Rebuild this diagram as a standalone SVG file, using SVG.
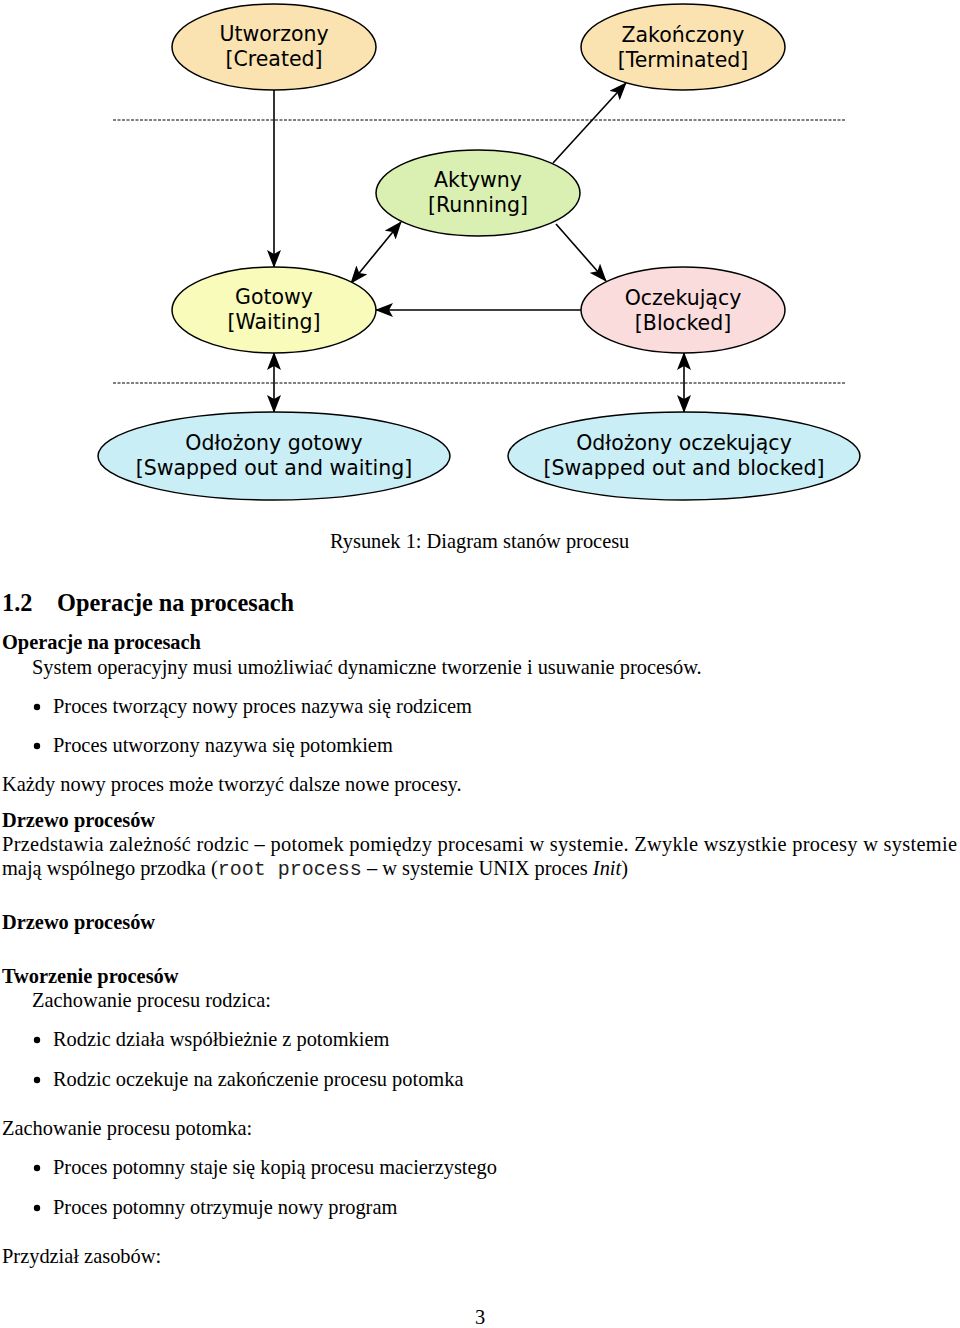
<svg xmlns="http://www.w3.org/2000/svg" width="960" height="1328" viewBox="0 0 960 1328">
<style>
.node ellipse{stroke:#000;stroke-width:1.5}
.nt{font-family:"DejaVu Sans",sans-serif;font-size:20.5px;text-anchor:middle;fill:#000}
.conn path{stroke:#000;stroke-width:1.6;fill:none}
.dash{stroke:#000;stroke-width:1;stroke-dasharray:3,1.5;fill:none}
.t{font-family:"Liberation Serif",serif;font-size:20.4px;fill:#000}
.b{font-weight:bold}
.h{font-family:"Liberation Serif",serif;font-size:24.3px;font-weight:bold;fill:#000}
.m{font-family:"Liberation Mono",monospace;font-size:20px;fill:#222}
</style>
<defs>
<marker id="ah" markerUnits="userSpaceOnUse" markerWidth="18" markerHeight="14" viewBox="0 0 18 14" refX="17" refY="7" orient="auto-start-reverse">
<path d="M0,0 L18,7 L0,14 L4,7 Z" fill="#000"/>
</marker>
</defs>
<rect width="960" height="1328" fill="#fff"/>
<line class="dash" x1="113" y1="120" x2="845" y2="120"/>
<line class="dash" x1="113" y1="383" x2="845" y2="383"/>
<g class="conn">
<path d="M274,90 L274,267" marker-end="url(#ah)"/>
<path d="M553,163 L626,83" marker-end="url(#ah)"/>
<path d="M351,283 L401,222" marker-start="url(#ah)" marker-end="url(#ah)"/>
<path d="M556,224 L606,281" marker-end="url(#ah)"/>
<path d="M581,310 L376,310" marker-end="url(#ah)"/>
<path d="M274,353 L274,412" marker-start="url(#ah)" marker-end="url(#ah)"/>
<path d="M684,353 L684,412" marker-start="url(#ah)" marker-end="url(#ah)"/>
</g>
<g id="created" class="node"><ellipse cx="274" cy="47" rx="102" ry="43" fill="#fae3b0"/><text class="nt" x="274" y="41">Utworzony</text><text class="nt" x="274" y="66">[Created]</text></g>
<g id="terminated" class="node"><ellipse cx="683" cy="47" rx="102" ry="43" fill="#fae3b0"/><text class="nt" x="683" y="42">Zakończony</text><text class="nt" x="683" y="67">[Terminated]</text></g>
<g id="running" class="node"><ellipse cx="478" cy="193" rx="102" ry="43" fill="#daf0b2"/><text class="nt" x="478" y="187">Aktywny</text><text class="nt" x="478" y="212">[Running]</text></g>
<g id="waiting" class="node"><ellipse cx="274" cy="310" rx="102" ry="43" fill="#f8fbb9"/><text class="nt" x="274" y="304">Gotowy</text><text class="nt" x="274" y="329">[Waiting]</text></g>
<g id="blocked" class="node"><ellipse cx="683" cy="310" rx="102" ry="43" fill="#fbdcdd"/><text class="nt" x="683" y="305">Oczekujący</text><text class="nt" x="683" y="330">[Blocked]</text></g>
<g id="swapped-waiting" class="node"><ellipse cx="274" cy="456" rx="176" ry="44" fill="#c9eef6"/><text class="nt" x="274" y="450">Odłożony gotowy</text><text class="nt" x="274" y="475">[Swapped out and waiting]</text></g>
<g id="swapped-blocked" class="node"><ellipse cx="684" cy="456" rx="176" ry="44" fill="#c9eef6"/><text class="nt" x="684" y="450">Odłożony oczekujący</text><text class="nt" x="684" y="475">[Swapped out and blocked]</text></g>

<text class="t" x="330" y="548">Rysunek 1: Diagram stanów procesu</text>
<text class="h" x="2" y="611">1.2</text><text class="h" x="57" y="611">Operacje na procesach</text>
<text class="t b" x="2" y="649">Operacje na procesach</text>
<text class="t" x="32" y="674">System operacyjny musi umożliwiać dynamiczne tworzenie i usuwanie procesów.</text>
<circle cx="37" cy="707" r="3.2"/><text class="t" x="53" y="713">Proces tworzący nowy proces nazywa się rodzicem</text>
<circle cx="37" cy="746" r="3.2"/><text class="t" x="53" y="752">Proces utworzony nazywa się potomkiem</text>
<text class="t" x="2" y="791">Każdy nowy proces może tworzyć dalsze nowe procesy.</text>
<text class="t b" x="2" y="827">Drzewo procesów</text>
<text class="t" x="2" y="851" textLength="955" lengthAdjust="spacing">Przedstawia zależność rodzic – potomek pomiędzy procesami w systemie.  Zwykle wszystkie procesy w systemie</text>
<text class="t" x="2" y="875">mają wspólnego przodka (<tspan class="m">root process</tspan> – w systemie UNIX proces <tspan font-style="italic">Init</tspan>)</text>
<text class="t b" x="2" y="929">Drzewo procesów</text>
<text class="t b" x="2" y="983">Tworzenie procesów</text>
<text class="t" x="32" y="1007">Zachowanie procesu rodzica:</text>
<circle cx="37" cy="1040" r="3.2"/><text class="t" x="53" y="1046">Rodzic działa współbieżnie z potomkiem</text>
<circle cx="37" cy="1080" r="3.2"/><text class="t" x="53" y="1086">Rodzic oczekuje na zakończenie procesu potomka</text>
<text class="t" x="2" y="1135">Zachowanie procesu potomka:</text>
<circle cx="37" cy="1168" r="3.2"/><text class="t" x="53" y="1174">Proces potomny staje się kopią procesu macierzystego</text>
<circle cx="37" cy="1208" r="3.2"/><text class="t" x="53" y="1214">Proces potomny otrzymuje nowy program</text>
<text class="t" x="2" y="1263">Przydział zasobów:</text>
<text class="t" x="475" y="1324">3</text>
</svg>
